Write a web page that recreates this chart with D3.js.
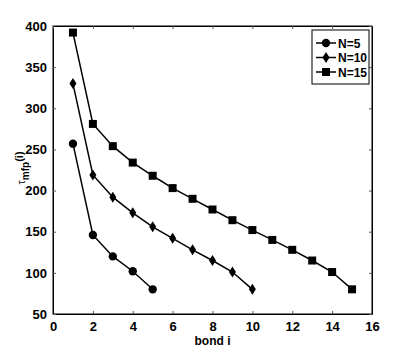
<!DOCTYPE html>
<html>
<head>
<meta charset="utf-8">
<script src="https://cdn.jsdelivr.net/npm/d3@7"></script>
<style>
  body { margin: 0; background: #fff; }
  text { font-family: "Liberation Sans Narrow", "Liberation Sans", Arial, sans-serif; font-weight: bold; }
</style>
</head>
<body>
<script>
// Data
const bonds5 = [1, 2, 3, 4, 5];
const tau5 = [257, 146, 120, 102, 80];
const bonds10 = [1, 2, 3, 4, 5, 6, 7, 8, 9, 10];
const tau10 = [330, 219, 192, 173, 156, 142, 128, 115, 101, 80];
const bonds15 = [1, 2, 3, 4, 5, 6, 7, 8, 9, 10, 11, 12, 13, 14, 15];
const tau15 = [392, 281, 254, 234, 218, 203, 190, 177, 164, 152, 140, 128, 115, 101, 80];
const seriesNames = ["N=5", "N=10", "N=15"];
const xTicks = [0, 2, 4, 6, 8, 10, 12, 14, 16];
const yTicks = [50, 100, 150, 200, 250, 300, 350, 400];

const w = 409, h = 354;
const padL = 53, padR = 372, padT = 26, padB = 314;

const svg = d3.select("body").append("svg")
    .attr("width", w).attr("height", h);

const x = d3.scaleLinear().domain([0, 16]).range([padL, padR]);
const y = d3.scaleLinear().domain([50, 400]).range([padB, padT]);

// Box
svg.append("rect")
    .attr("x", padL).attr("y", padT)
    .attr("width", padR - padL).attr("height", padB - padT)
    .attr("fill", "none").attr("stroke", "#000").attr("stroke-width", 1);

// Axes (ticks inward)
svg.append("g").attr("transform", `translate(0,${padB})`)
    .call(d3.axisBottom(x).tickValues(xTicks).tickSizeInner(-3).tickSizeOuter(0).tickPadding(8));
svg.append("g").attr("transform", `translate(${padL},0)`)
    .call(d3.axisLeft(y).tickValues(yTicks).tickSizeInner(-3).tickSizeOuter(0).tickPadding(6));
svg.append("g").attr("transform", `translate(0,${padT})`)
    .call(d3.axisTop(x).tickValues(xTicks).tickSizeInner(-3).tickSizeOuter(0).tickFormat(""));
svg.append("g").attr("transform", `translate(${padR},0)`)
    .call(d3.axisRight(y).tickValues(yTicks).tickSizeInner(-3).tickSizeOuter(0).tickFormat(""));

svg.selectAll(".domain").attr("stroke", "#000");
svg.selectAll(".tick line").attr("stroke", "#555");
svg.selectAll(".tick text").attr("font-size", 13).attr("fill", "#000")
    .attr("font-family", "'Liberation Sans Narrow', 'Liberation Sans', Arial, sans-serif")
    .attr("font-weight", "bold");

// Axis labels
svg.append("text")
    .attr("x", (padL + padR) / 2).attr("y", 345)
    .attr("text-anchor", "middle").attr("font-size", 12)
    .text("bond i");

const yl = svg.append("text")
    .attr("transform", "translate(25,168) rotate(-90)")
    .attr("text-anchor", "middle").attr("font-size", 11);
yl.append("tspan").attr("font-weight", "normal").text("τ");
yl.append("tspan").attr("dy", 4).attr("font-size", 10).text("mfp");
yl.append("tspan").attr("dy", -6).attr("font-size", 11).text("(i)");

// Series
const series = [
  { name: seriesNames[0], xs: bonds5, ys: tau5, shape: d3.symbolCircle, size: 55 },
  { name: seriesNames[1], xs: bonds10, ys: tau10, shape: "diamond", size: 0 },
  { name: seriesNames[2], xs: bonds15, ys: tau15, shape: d3.symbolSquare, size: 64 }
];

const line = d3.line().x(d => x(d[0])).y(d => y(d[1]));

function drawMarker(g, s, cx, cy) {
  if (s.shape === "diamond") {
    g.append("path")
      .attr("d", `M${cx},${cy - 5.5}L${cx + 3.5},${cy}L${cx},${cy + 5.5}L${cx - 3.5},${cy}Z`)
      .attr("fill", "#000");
  } else {
    g.append("path")
      .attr("transform", `translate(${cx},${cy})`)
      .attr("d", d3.symbol().type(s.shape).size(s.size)())
      .attr("fill", "#000");
  }
}

series.forEach(s => {
  const pts = s.xs.map((v, i) => [v, s.ys[i]]);
  svg.append("path").datum(pts)
    .attr("d", line).attr("fill", "none")
    .attr("stroke", "#000").attr("stroke-width", 1.5);
  const g = svg.append("g");
  pts.forEach(p => drawMarker(g, s, x(p[0]), y(p[1])));
});

// Legend
const lg = svg.append("g");
lg.append("rect")
  .attr("x", 312).attr("y", 30).attr("width", 57).attr("height", 54)
  .attr("fill", "#fff").attr("stroke", "#000").attr("stroke-width", 1);
const legY = [43, 57.5, 72];
series.forEach((s, i) => {
  lg.append("line").attr("x1", 316).attr("x2", 336)
    .attr("y1", legY[i]).attr("y2", legY[i])
    .attr("stroke", "#000").attr("stroke-width", 1.5);
  drawMarker(lg, s, 326, legY[i]);
  lg.append("text").attr("x", 338).attr("y", legY[i] + 4.5)
    .attr("font-size", 12).text(s.name);
});
</script>
</body>
</html>
